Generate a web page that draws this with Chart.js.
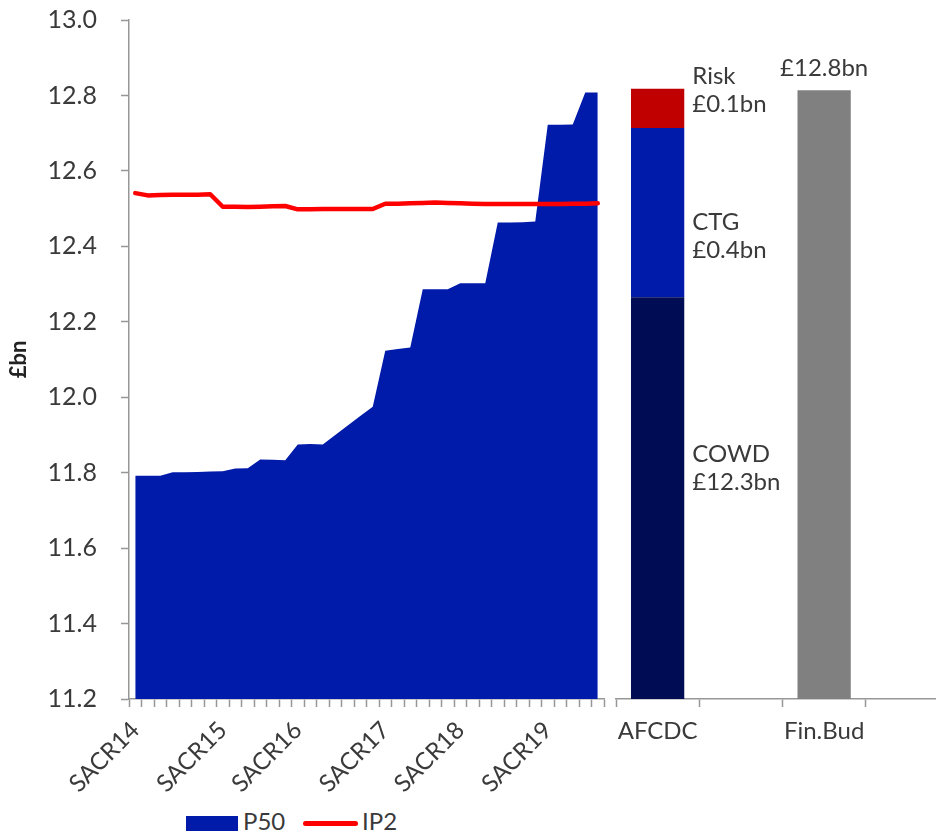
<!DOCTYPE html>
<html>
<head>
<meta charset="utf-8">
<title>Cost forecast vs budget</title>
<script src="https://cdn.jsdelivr.net/npm/chart.js@4.4.0/dist/chart.umd.min.js"></script>
<style>
  html, body { margin: 0; padding: 0; background: #fff; overflow: hidden; }
  body { width: 936px; height: 833px; position: relative; font-family: Lato, sans-serif; color: #3a3a3a; }
  #trendWrap { position: absolute; left: 0; top: 0; width: 610px; height: 800px; }
  #budgetWrap { position: absolute; left: 606px; top: 0; width: 350px; height: 800px; }
  .key { position: absolute; top: 806px; font-size: 24px; line-height: 30px; }
  .swatch { position: absolute; }
</style>
</head>
<body>
<div id="trendWrap"><canvas id="trend"></canvas></div>
<div id="budgetWrap"><canvas id="budget"></canvas></div>

<div class="swatch" style="left:186px; top:816px; width:52px; height:15px; background:#001AAA;"></div>
<div class="key" style="left:243px;">P50</div>
<div class="swatch" style="left:303px; top:821px; width:55px; height:5px; border-radius:3px; background:#FF0000;"></div>
<div class="key" style="left:362px;">IP2</div>

<script>
// monthly snapshots, one label at the start of each SACR period
const periods = [
  'SACR14', '', '', '', '', '', '',
  'SACR15', '', '', '', '', '',
  'SACR16', '', '', '', '', '', '',
  'SACR17', '', '', '', '', '',
  'SACR18', '', '', '', '', '', '',
  'SACR19', '', '', '', ''
];

const p50 = [
  11.792, 11.792, 11.792, 11.801, 11.801, 11.802, 11.803,
  11.804, 11.811, 11.812, 11.835, 11.834, 11.833,
  11.875, 11.876, 11.875, 11.900, 11.925, 11.950, 11.975,
  12.123, 12.128, 12.132, 12.286, 12.286, 12.286,
  12.302, 12.302, 12.302, 12.463, 12.463, 12.464, 12.466,
  12.722, 12.722, 12.723, 12.808, 12.808
];

const ip2 = [
  12.541, 12.535, 12.536, 12.537, 12.537, 12.537, 12.538,
  12.505, 12.505, 12.504, 12.505, 12.506, 12.507,
  12.498, 12.498, 12.499, 12.499, 12.499, 12.499, 12.499,
  12.513, 12.513, 12.514, 12.515, 12.516, 12.515,
  12.514, 12.513, 12.512, 12.512, 12.512, 12.512, 12.512,
  12.512, 12.512, 12.513, 12.513, 12.514
];

// right-hand columns
const budgetCats = ['AFCDC', '', 'Fin.Bud', ''];
const cowd   = [12.265, null, null, null];
const ctg    = [0.449, null, null, null];
const risk   = [0.104, null, null, null];
const finBud = [null, null, 12.814, null];

const yMin = 11.2;
const yMax = 13.0;
const yStep = 0.2;

const textColor = '#3a3a3a';
const axisColor = '#979797';
const FONT = 'Lato, sans-serif';

Chart.defaults.font.family = FONT;
Chart.defaults.color = textColor;
Chart.defaults.animation = false;

const axisGrid = {
  display: true,
  drawOnChartArea: false,
  drawTicks: true,
  tickLength: 8,
  tickWidth: 1.5,
  color: axisColor
};

// keep both plot areas on the same frame regardless of label overhang
function noOverhang(scale) {
  scale.paddingTop = 0;
  scale.paddingBottom = 0;
  scale.paddingLeft = 0;
  scale.paddingRight = 0;
}

new Chart(document.getElementById('trend'), {
  type: 'line',
  data: {
    labels: periods,
    datasets: [
      {
        label: 'IP2',
        data: ip2,
        borderColor: '#FF0000',
        borderWidth: 4.5,
        borderCapStyle: 'round',
        borderJoinStyle: 'round',
        pointRadius: 0,
        fill: false,
        tension: 0,
        order: 0
      },
      {
        label: 'P50',
        data: p50,
        borderWidth: 0,
        backgroundColor: '#001AAA',
        pointRadius: 0,
        fill: 'start',
        tension: 0,
        order: 1
      }
    ]
  },
  options: {
    responsive: true,
    maintainAspectRatio: false,
    layout: { padding: { left: 6, right: 6, top: 20, bottom: 0 } },
    plugins: {
      legend: { display: false },
      tooltip: { enabled: false }
    },
    scales: {
      x: {
        offset: true,
        grid: { ...axisGrid, offset: true },
        border: { display: true, color: axisColor, width: 1.5 },
        ticks: {
          autoSkip: false,
          maxRotation: 45,
          minRotation: 45,
          padding: 9,
          font: { size: 24 },
          color: textColor
        },
        afterFit(scale) { scale.height = 101; noOverhang(scale); }
      },
      y: {
        min: yMin,
        max: yMax,
        grid: axisGrid,
        border: { display: true, color: axisColor, width: 1.5 },
        ticks: {
          stepSize: yStep,
          padding: 24,
          font: { size: 25 },
          color: textColor,
          callback: v => v.toFixed(1)
        },
        title: {
          display: true,
          text: '£bn',
          font: { size: 22, weight: 'bold' },
          color: '#222',
          padding: { top: 0, bottom: 0 }
        },
        afterFit(scale) { scale.width = 123; noOverhang(scale); }
      }
    }
  }
});

// names and values written beside the AFCDC segments and above Fin.Bud
const columnLabels = {
  id: 'columnLabels',
  afterDatasetsDraw(chart) {
    const { ctx, chartArea } = chart;
    const fmt = v => '£' + v.toFixed(1) + 'bn';
    ctx.save();
    ctx.font = '24px ' + FONT;
    ctx.fillStyle = textColor;
    ctx.textBaseline = 'middle';

    const segs = [
      { ds: 0, name: 'COWD', value: cowd[0], nudge: -30, anchor: 'mid' },
      { ds: 1, name: 'CTG', value: ctg[0], nudge: 24, anchor: 'mid' },
      { ds: 2, name: 'Risk', value: risk[0], nudge: 2, anchor: 'top' }
    ];
    segs.forEach(s => {
      const bar = chart.getDatasetMeta(s.ds).data[0];
      const bottom = Math.min(bar.base, chartArea.bottom);
      const cy = (s.anchor === 'top' ? bar.y : (bar.y + bottom) / 2) + s.nudge;
      const x = bar.x + bar.width / 2 + 8;
      ctx.textAlign = 'left';
      ctx.fillText(s.name, x, cy - 14);
      ctx.fillText(fmt(s.value), x, cy + 14);
    });

    const fb = chart.getDatasetMeta(3).data[2];
    ctx.textAlign = 'center';
    ctx.fillText(fmt(finBud[2]), fb.x, fb.y - 22);
    ctx.restore();
  }
};

new Chart(document.getElementById('budget'), {
  type: 'bar',
  data: {
    labels: budgetCats,
    datasets: [
      { label: 'COWD', data: cowd, backgroundColor: '#000D55' },
      { label: 'CTG', data: ctg, backgroundColor: '#001AAA' },
      { label: 'Risk', data: risk, backgroundColor: '#C00000' },
      { label: 'Fin.Bud', data: finBud, backgroundColor: '#808080' }
    ]
  },
  options: {
    responsive: true,
    maintainAspectRatio: false,
    layout: { padding: { left: 10, right: 7, top: 20, bottom: 0 } },
    datasets: { bar: { categoryPercentage: 1, barPercentage: 0.64, borderWidth: 0 } },
    plugins: {
      legend: { display: false },
      tooltip: { enabled: false }
    },
    scales: {
      x: {
        stacked: true,
        grid: { ...axisGrid, offset: true },
        border: { display: true, color: axisColor, width: 1.5 },
        ticks: {
          autoSkip: false,
          maxRotation: 0,
          padding: 10,
          font: { size: 24 },
          color: textColor
        },
        afterFit(scale) { scale.height = 101; noOverhang(scale); }
      },
      y: {
        display: false,
        stacked: true,
        min: yMin,
        max: yMax
      }
    }
  },
  plugins: [columnLabels]
});
</script>
</body>
</html>
